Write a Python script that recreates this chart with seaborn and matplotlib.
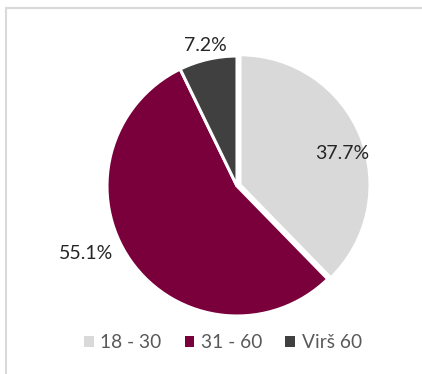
import numpy as np
import matplotlib
matplotlib.use("Agg")
import matplotlib.pyplot as plt
from matplotlib.lines import Line2D
from matplotlib.patches import Patch
import seaborn as sns

categories = ["18 - 30", "31 - 60", "Virš 60"]
values = [37.7, 55.1, 7.2]
colors = ["#d9d9d9", "#7a003c", "#404040"]

sns.set_theme(style="white")
plt.rcParams['font.family'] = ['Lato', 'DejaVu Sans']
palette = sns.color_palette(colors)

W, H = 422, 374
fig = plt.figure(figsize=(W / 100, H / 100), dpi=100)
ax = fig.add_axes([0, 0, 1, 1])
cx, cy, R = 237, 186, 130

wedges, _ = ax.pie(values, colors=palette, startangle=90, counterclock=False,
                   radius=1, explode=[0.025, 0, 0],
                   wedgeprops=dict(edgecolor="white", linewidth=2.2))

# label placement (distance, angle offset in degrees) per slice
label_style = [(0.85, -5), (1.27, -11), (1.11, -0.5)]
for w, v, (d, off) in zip(wedges, values, label_style):
    mid = np.deg2rad((w.theta1 + w.theta2) / 2 + off)
    ax.text(d * np.cos(mid), d * np.sin(mid), f"{v:.1f}%", ha="center",
            va="center", fontsize=14, color="#262626")

ax.set_xlim(-cx / R, (W - cx) / R)
ax.set_ylim(-(H - cy) / R, cy / R)
ax.set_aspect("auto")
ax.axis("off")

handles = [Patch(facecolor=c, edgecolor="none") for c in palette]
leg = fig.legend(handles, categories, loc="center", bbox_to_anchor=(223 / W, 1 - 343 / H),
                 ncol=3, frameon=False, fontsize=13.8, handlelength=0.5, handleheight=0.5,
                 handletextpad=0.35, columnspacing=1.2)
for t in leg.get_texts():
    t.set_color("#595959")

fig.add_artist(Line2D([6 / W, 6 / W], [0, 1 - 8 / H], color="#d9d9d9", linewidth=1.5,
                      transform=fig.transFigure))
fig.add_artist(Line2D([6 / W, 1], [1 - 8 / H, 1 - 8 / H], color="#d9d9d9", linewidth=1.5,
                      transform=fig.transFigure))

fig.savefig("out.png", dpi=100)
